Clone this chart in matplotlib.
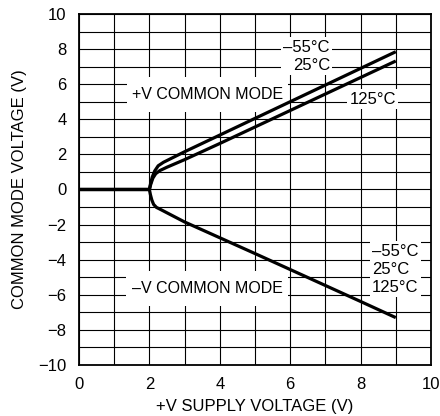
import matplotlib
matplotlib.use("Agg")
import matplotlib.pyplot as plt
from matplotlib.patches import Rectangle

plt.rcParams['font.family'] = ['Liberation Sans Narrow', 'Liberation Sans', 'DejaVu Sans']

# +V common mode, -55C and 25C (same curve)
x_plus_cold = [0, 2.0, 2.03, 2.08, 2.15, 2.25, 2.4, 3, 4, 5, 6, 7, 8, 9]
y_plus_cold = [0, 0, 0.3, 0.7, 1.05, 1.35, 1.55, 2.15, 3.1, 4.05, 5.0, 5.95, 6.9, 7.85]

# +V common mode, 125C
x_plus_hot = [0, 2.0, 2.04, 2.1, 2.18, 2.3, 2.5, 3, 4, 5, 6, 7, 8, 9]
y_plus_hot = [0, 0, 0.3, 0.65, 0.9, 1.08, 1.27, 1.7, 2.62, 3.56, 4.5, 5.44, 6.38, 7.32]

# -V common mode, all temperatures
x_minus = [0, 2.0, 2.03, 2.07, 2.12, 2.2, 2.3, 3, 4, 5, 6, 7, 8, 9]
y_minus = [0, 0, -0.3, -0.6, -0.85, -1.02, -1.12, -1.85, -2.75, -3.65, -4.56, -5.47, -6.38, -7.3]

x_ticks = [0, 2, 4, 6, 8, 10]
y_ticks = [-10, -8, -6, -4, -2, 0, 2, 4, 6, 8, 10]

fig = plt.figure(figsize=(4.4, 4.16), dpi=100)
ax = fig.add_axes([0.1795, 0.1226, 0.8, 0.8438])

ax.plot(x_plus_cold, y_plus_cold, color='black', lw=2.3, zorder=4, solid_capstyle='butt')
ax.plot(x_plus_hot, y_plus_hot, color='black', lw=2.3, zorder=4, solid_capstyle='butt')
ax.plot(x_minus, y_minus, color='black', lw=2.3, zorder=4, solid_capstyle='butt')

ax.set_xlim(0, 10)
ax.set_ylim(-10, 10)
ax.set_xticks(x_ticks)
ax.set_yticks(y_ticks)
ax.set_xticks(range(0, 11), minor=True)
ax.set_yticks(range(-10, 11), minor=True)
ax.grid(True, which='both', color='black', lw=0.8, zorder=1)
ax.set_axisbelow(True)
ax.tick_params(which='both', length=0)
ax.tick_params(axis='x', labelsize=12, pad=9)
ax.tick_params(axis='y', labelsize=12, pad=9)
for s in ax.spines.values():
    s.set_linewidth(1.3)

ax.set_xlabel('+V SUPPLY VOLTAGE (V)', fontsize=12, labelpad=5)
ax.set_ylabel('COMMON MODE VOLTAGE (V)', fontsize=12, labelpad=8)

# white boxes behind the mode labels
ax.add_patch(Rectangle((1.36, 4.42), 4.58, 2.0, fc='white', ec='none', zorder=2))
ax.add_patch(Rectangle((1.34, -6.64), 4.6, 2.0, fc='white', ec='none', zorder=2))
ax.text(3.65, 5.42, '+V COMMON MODE', fontsize=11.5, ha='center', va='center', zorder=3)
ax.text(3.65, -5.62, '–V COMMON MODE', fontsize=11.5, ha='center', va='center', zorder=3)

box = dict(boxstyle='square,pad=0.15', fc='white', ec='none')
ax.text(7.13, 7.58, '–55°C\n25°C', fontsize=12, ha='right', va='center',
        multialignment='right', linespacing=1.25, bbox=box, zorder=3)
ax.text(8.34, 5.15, '125°C', fontsize=12, ha='center', va='center', bbox=box, zorder=3)
ax.text(8.33, -4.55, '–55°C\n25°C\n125°C', fontsize=12, ha='left', va='center',
        linespacing=1.25, bbox=box, zorder=3)

fig.savefig('out.png', dpi=100)
